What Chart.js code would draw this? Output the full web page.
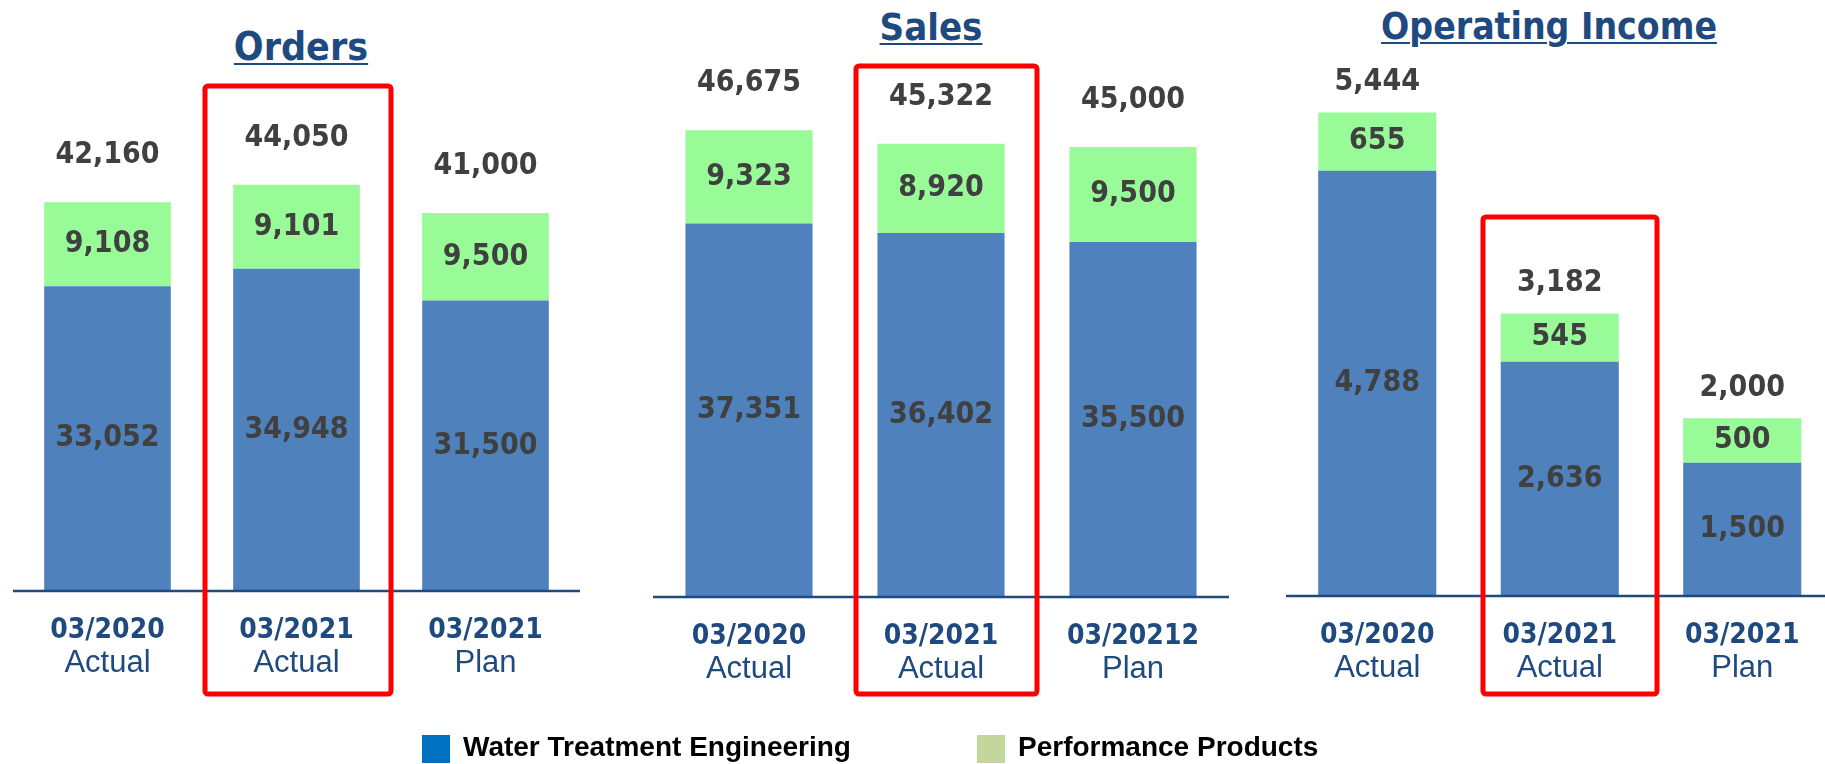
<!DOCTYPE html>
<html>
<head>
<meta charset="utf-8">
<script src="https://cdn.jsdelivr.net/npm/chart.js@4.4.1/dist/chart.umd.min.js"></script>
<style>
  html, body { margin: 0; padding: 0; width: 1825px; height: 764px; overflow: hidden; background: #fff; }
  canvas { position: absolute; top: 0; }
  .title {
    position: absolute; transform: translateX(-50%); white-space: nowrap;
    font: bold 38px 'DejaVu Sans Condensed', 'DejaVu Sans', sans-serif; line-height: 38px;
    color: #1f4a7f; text-decoration: underline; text-decoration-thickness: 2px; text-underline-offset: 3px;
  }
  .swatch { position: absolute; top: 735px; width: 28px; height: 28px; }
  .legend-text {
    position: absolute; top: 733px; white-space: nowrap;
    font: bold 28px 'Liberation Sans', Arial, sans-serif; line-height: 28px; color: #000;
  }
</style>
</head>
<body>
<div class="title" style="left:301px; top:28px; font-size:39px">Orders</div>
<div class="title" style="left:931px; top:8px">Sales</div>
<div class="title" style="left:1549px; top:8px; font-size:37px">Operating Income</div>

<canvas id="ordersChart" width="600" height="764" style="left:0px"></canvas>
<canvas id="salesChart" width="640" height="764" style="left:600px"></canvas>
<canvas id="incomeChart" width="620" height="764" style="left:1240px"></canvas>

<div class="swatch" style="left:422px; background:#0070c0"></div>
<div class="legend-text" style="left:463px">Water Treatment Engineering</div>
<div class="swatch" style="left:977px; background:#c3d69b"></div>
<div class="legend-text" style="left:1018px">Performance Products</div>

<script>
// period labels (first line bold, second line regular)
const ordersPeriods = ['03/2020', '03/2021', '03/2021']
const salesPeriods = ['03/2020', '03/2021', '03/20212']
const incomePeriods = ['03/2020', '03/2021', '03/2021']
const periodKinds = ['Actual', 'Actual', 'Plan']

const seriesNames = ['Water Treatment Engineering', 'Performance Products']

const ordersWater = [33052, 34948, 31500]
const ordersPerformance = [9108, 9101, 9500]
const ordersTotal = [42160, 44050, 41000]

const salesWater = [37351, 36402, 35500]
const salesPerformance = [9323, 8920, 9500]
const salesTotal = [46675, 45322, 45000]

const incomeWater = [4788, 2636, 1500]
const incomePerformance = [655, 545, 500]
const incomeTotal = [5444, 3182, 2000]

const WATER_COLOR = '#4f81bd'
const PERF_COLOR = '#98fb98'
const VALUE_FONT = "bold 30px 'DejaVu Sans Condensed', 'DejaVu Sans', sans-serif"
const PERIOD_FONT = "bold 28px 'DejaVu Sans Condensed', 'DejaVu Sans', sans-serif"
const KIND_FONT = "31px 'Liberation Sans', Arial, sans-serif"

const fmt = v => v.toLocaleString('en-US')

// draws values, axis line, period labels and the highlight box
const panelDecor = {
  id: 'panelDecor',
  afterDatasetsDraw(chart, args, opts) {
    const ctx = chart.ctx
    const area = chart.chartArea
    const xScale = chart.scales.x
    ctx.save()
    ctx.textAlign = 'center'
    ctx.textBaseline = 'middle'

    // segment values
    ctx.font = VALUE_FONT
    ctx.fillStyle = '#404040'
    chart.data.datasets.forEach((ds, di) => {
      chart.getDatasetMeta(di).data.forEach((bar, i) => {
        ctx.fillText(fmt(ds.data[i]), bar.x, (bar.y + bar.base) / 2)
      })
    })

    // totals above the stack
    const topMeta = chart.getDatasetMeta(chart.data.datasets.length - 1)
    opts.totals.forEach((t, i) => {
      const bar = topMeta.data[i]
      ctx.fillText(fmt(t), bar.x, bar.y - opts.totalGap)
    })

    // baseline
    ctx.strokeStyle = '#1f4a7f'
    ctx.lineWidth = 2.5
    ctx.beginPath()
    ctx.moveTo(area.left, area.bottom)
    ctx.lineTo(area.right, area.bottom)
    ctx.stroke()

    // period labels
    ctx.fillStyle = '#1f4a7f'
    chart.data.labels.forEach((label, i) => {
      const x = xScale.getPixelForTick(i)
      ctx.font = PERIOD_FONT
      ctx.fillText(label, x, area.bottom + 40)
      ctx.font = KIND_FONT
      ctx.fillText(opts.kinds[i], x, area.bottom + 72)
    })

    // highlight box around the current year
    const hx = xScale.getPixelForTick(opts.box.index)
    ctx.strokeStyle = '#ff0000'
    ctx.lineWidth = 5
    ctx.beginPath()
    ctx.roundRect(hx + opts.box.left, opts.box.top, opts.box.right - opts.box.left, opts.box.bottom - opts.box.top, 3)
    ctx.stroke()
    ctx.restore()
  }
}

function makePanel(canvasId, periods, water, performance, totals, cfg) {
  return new Chart(document.getElementById(canvasId), {
    type: 'bar',
    data: {
      labels: periods,
      datasets: [
        { label: seriesNames[0], data: water, backgroundColor: WATER_COLOR, barPercentage: 1, categoryPercentage: cfg.barShare },
        { label: seriesNames[1], data: performance, backgroundColor: PERF_COLOR, barPercentage: 1, categoryPercentage: cfg.barShare }
      ]
    },
    options: {
      responsive: false,
      animation: false,
      layout: { padding: cfg.padding },
      plugins: {
        legend: { display: false },
        tooltip: { enabled: false },
        panelDecor: { totals, kinds: periodKinds, totalGap: cfg.totalGap, box: cfg.box }
      },
      scales: {
        x: { stacked: true, display: false },
        y: { stacked: true, display: false, min: 0, max: cfg.yMax }
      }
    },
    plugins: [panelDecor]
  })
}

makePanel('ordersChart', ordersPeriods, ordersWater, ordersPerformance, ordersTotal, {
  barShare: 0.67,
  yMax: 50000,
  padding: { left: 13, right: 20, top: 130, bottom: 173 },
  totalGap: 47,
  box: { index: 1, left: -91.5, right: 94.5, top: 86, bottom: 694 }
})

makePanel('salesChart', salesPeriods, salesWater, salesPerformance, salesTotal, {
  barShare: 0.662,
  yMax: 50000,
  padding: { left: 53, right: 11, top: 97, bottom: 167 },
  totalGap: 47,
  box: { index: 1, left: -85, right: 96, top: 66, bottom: 694 }
})

makePanel('incomeChart', incomePeriods, incomeWater, incomePerformance, incomeTotal, {
  barShare: 0.647,
  yMax: 6000,
  padding: { left: 46, right: 26.5, top: 63, bottom: 168 },
  totalGap: 30,
  box: { index: 1, left: -76.75, right: 97.25, top: 217, bottom: 694 }
})
</script>
</body>
</html>
